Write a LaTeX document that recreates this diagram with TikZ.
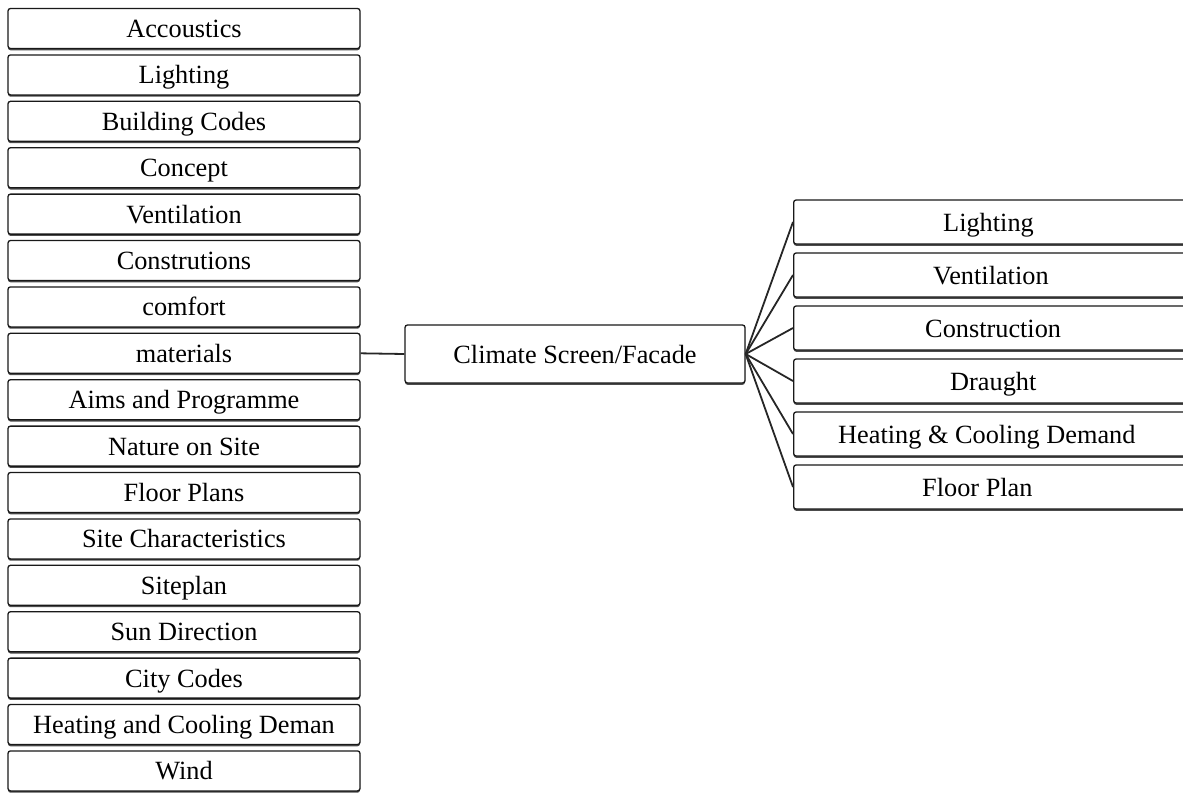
\documentclass[tikz,border=0pt]{standalone}
\usepackage{fontspec}
\setmainfont{Liberation Serif}
\usetikzlibrary{shadows}
\begin{document}
\begin{tikzpicture}[x=1pt,y=-1pt,
  txt/.style={inner sep=0pt, font=\fontsize{26.3}{29}\selectfont, text height=22pt, text depth=4pt},
  box/.style={txt, draw=black!90, line width=1.3pt, fill=white, rounded corners=2.5pt,
    drop shadow={shadow xshift=0pt, shadow yshift=-1.8pt, fill=black!70, opacity=1}},
  lbox/.style={box, minimum width=352pt, minimum height=40pt},
  cbox/.style={box, minimum width=340pt, minimum height=58pt},
  rbox/.style={box, minimum width=410pt, minimum height=44pt, anchor=west},
  link/.style={draw=black!85, line width=1.8pt}]
\useasboundingbox (0,0) rectangle (1183,793);
\clip (0,0) rectangle (1183,793);
\foreach \t [count=\i from 0] in {Accoustics,Lighting,Building Codes,Concept,Ventilation,Construtions,comfort,materials,Aims and Programme,Nature on Site,Floor Plans,Site Characteristics,Siteplan,Sun Direction,City Codes,Heating and Cooling Deman,Wind}{
  \node[lbox] (l\i) at (184,28.5+46.4*\i) {\t};
}
\node[cbox] (c) at (575,354) {Climate Screen/Facade};
\draw[link] (l7.east) -- (c.west);
\foreach \t/\x [count=\i from 0] in {Lighting/943,Ventilation/933,Construction/925,Draught/950,Heating \& Cooling Demand/838,Floor Plan/922}{
  \node[rbox] (r\i) at (793,222+53*\i) {};
  \node[txt, anchor=west] (rt\i) at (\x,222+53*\i) {\t};
  \draw[link] (c.east) -- (r\i.west);
}
\end{tikzpicture}
\end{document}
